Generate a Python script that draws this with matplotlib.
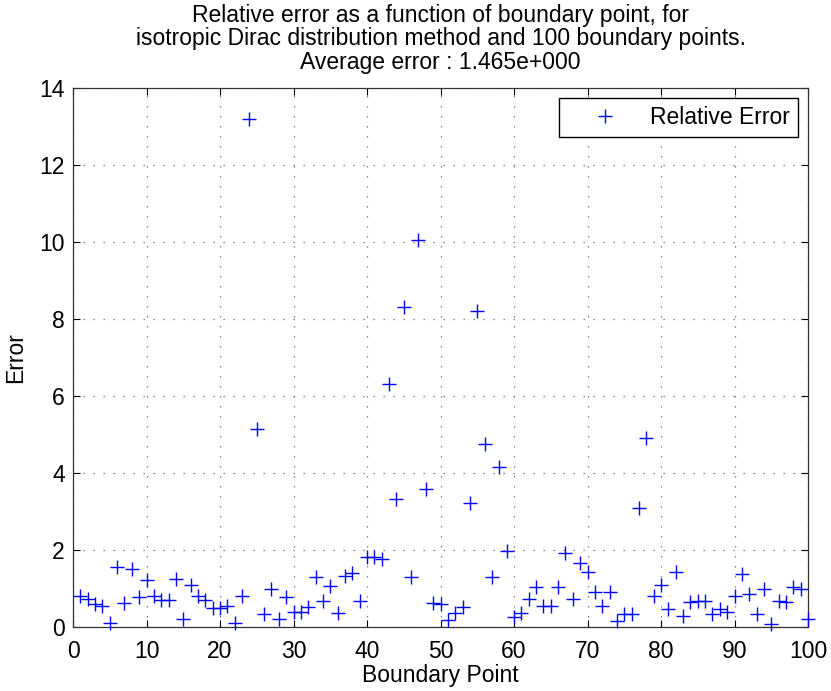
import matplotlib
matplotlib.use("Agg")
import matplotlib.pyplot as plt
import numpy as np

plt.rcParams['font.family'] = ['Liberation Sans', 'DejaVu Sans']

boundary_point = list(range(1, 101))
relative_error = [
    0.81, 0.72, 0.60, 0.55, 0.10, 1.57, 0.63, 1.51, 0.77, 1.22,
    0.81, 0.70, 0.70, 1.25, 0.20, 1.09, 0.81, 0.70, 0.49, 0.49,
    0.55, 0.10, 0.81, 13.20, 5.15, 0.33, 1.00, 0.20, 0.79, 0.38,
    0.40, 0.51, 1.31, 0.68, 1.07, 0.37, 1.33, 1.39, 0.68, 1.81,
    1.81, 1.77, 6.30, 3.32, 8.30, 1.31, 10.05, 3.58, 0.63, 0.60,
    0.18, 0.37, 0.51, 3.23, 8.22, 4.76, 1.31, 4.15, 1.97, 0.27,
    0.37, 0.74, 1.03, 0.55, 0.55, 1.03, 1.93, 0.74, 1.65, 1.44,
    0.90, 0.55, 0.90, 0.16, 0.33, 0.33, 3.10, 4.90, 0.81, 1.09,
    0.47, 1.44, 0.29, 0.64, 0.68, 0.68, 0.34, 0.47, 0.38, 0.81,
    1.38, 0.86, 0.34, 1.00, 0.07, 0.68, 0.64, 1.05, 1.00, 0.20,
]
x_ticks = [0, 10, 20, 30, 40, 50, 60, 70, 80, 90, 100]
y_ticks = [0, 2, 4, 6, 8, 10, 12, 14]
title_text = ("Relative error as a function of boundary point, for\n"
              "isotropic Dirac distribution method and 100 boundary points.\n"
              "Average error : 1.465e+000")

fig = plt.figure(figsize=(8.31, 6.91), dpi=100)
ax = fig.add_axes([73/831, 64/691, 735/831, 539/691])

ax.plot(boundary_point, relative_error, linestyle='none', marker='+',
        color='#0000ff', markersize=10, markeredgewidth=1.0,
        label='Relative Error', clip_on=False, zorder=3)

ax.set_xlim(0, 100)
ax.set_ylim(0, 14)
ax.set_xticks(x_ticks)
ax.set_yticks(y_ticks)
ax.tick_params(direction='in', top=True, right=True, length=5, width=0.8,
               labelsize=16.5, colors='black')
ax.tick_params(axis='x', pad=9)
ax.tick_params(axis='y', pad=6)
ax.grid(True, linestyle=(0, (1, 7)), color='#666666', linewidth=0.9)
for s in ax.spines.values():
    s.set_color('#333333')
    s.set_linewidth(0.9)

ax.set_xlabel('Boundary Point', fontsize=16.5, labelpad=1)
ax.set_ylabel('Error', fontsize=16.5)
ax.yaxis.set_label_coords(-0.062, 0.5)
ax.set_title(title_text, fontsize=16.5, linespacing=1.02, pad=14)

leg = ax.legend(loc='upper right', fontsize=16.5, frameon=True, fancybox=False,
                borderpad=0.35, handlelength=3.3, handletextpad=0.3,
                borderaxespad=0.45, bbox_to_anchor=(1, 1))
leg.get_frame().set_edgecolor('black')
leg.get_frame().set_linewidth(1.0)
leg.get_frame().set_alpha(1.0)

fig.savefig('out.png', dpi=100)
